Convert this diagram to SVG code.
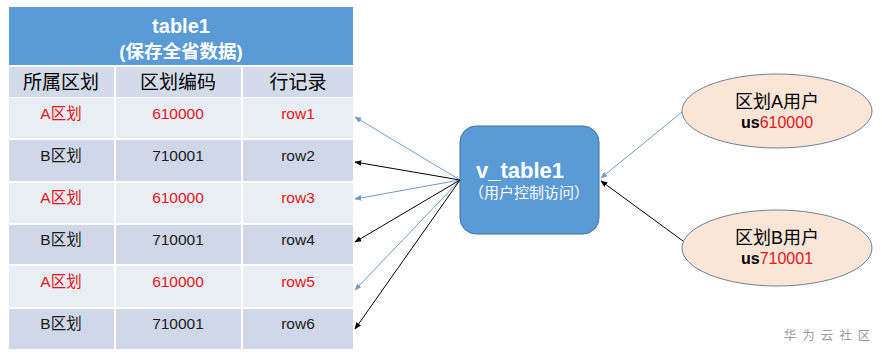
<svg xmlns="http://www.w3.org/2000/svg" width="882" height="356" viewBox="0 0 882 356">
<defs>
<style>
.t{font-family:"Liberation Sans","Noto Sans CJK SC",sans-serif;text-anchor:middle}
.hd{fill:#fff;font-weight:bold}
.ch{font-size:19px;fill:#000}
.cell{font-size:15.5px}
.red{fill:#E8141B}
.blk{fill:#1a1a1a}
.ra{fill:#E9EDF4}
.rb{fill:#CFD7E9}
.lb{stroke:#6E9BCF;stroke-width:1;fill:none}
.lk{stroke:#000;stroke-width:1;fill:none}
</style>
<marker id="ab" viewBox="0 0 10 10" refX="9" refY="5" markerWidth="7" markerHeight="7" orient="auto" markerUnits="userSpaceOnUse"><path d="M0,1 L10,5 L0,9 z" fill="#6E9BCF"/></marker>
<marker id="ak" viewBox="0 0 10 10" refX="9" refY="5" markerWidth="7" markerHeight="7" orient="auto" markerUnits="userSpaceOnUse"><path d="M0,1 L10,5 L0,9 z" fill="#000"/></marker>
</defs>
<rect width="882" height="356" fill="#fff"/>
<g id="table1">
<rect x="9" y="7" width="344" height="58" fill="#5B9BD5"/>
<text class="t hd" x="181" y="33" font-size="20">table1</text>
<text class="t hd" x="181" y="58" font-size="18.5">(保存全省数据)</text>
<rect x="9" y="67" width="105" height="30" fill="#D3DBEA"/>
<rect x="116" y="67" width="125" height="30" fill="#D3DBEA"/>
<rect x="243" y="67" width="110" height="30" fill="#D3DBEA"/>
<text class="t ch" x="61" y="89">所属区划</text>
<text class="t ch" x="178" y="89">区划编码</text>
<text class="t ch" x="298" y="89">行记录</text>
<g>
<rect class="ra" x="9" y="98" width="105" height="40"/><rect class="ra" x="116" y="98" width="125" height="40"/><rect class="ra" x="243" y="98" width="110" height="40"/>
<text class="t cell red" x="61" y="119">A区划</text><text class="t cell red" x="178" y="119">610000</text><text class="t cell red" x="298" y="119">row1</text>
</g>
<g>
<rect class="rb" x="9" y="140" width="105" height="41"/><rect class="rb" x="116" y="140" width="125" height="41"/><rect class="rb" x="243" y="140" width="110" height="41"/>
<text class="t cell blk" x="61" y="161">B区划</text><text class="t cell blk" x="178" y="161">710001</text><text class="t cell blk" x="298" y="161">row2</text>
</g>
<g>
<rect class="ra" x="9" y="183" width="105" height="40"/><rect class="ra" x="116" y="183" width="125" height="40"/><rect class="ra" x="243" y="183" width="110" height="40"/>
<text class="t cell red" x="61" y="203">A区划</text><text class="t cell red" x="178" y="203">610000</text><text class="t cell red" x="298" y="203">row3</text>
</g>
<g>
<rect class="rb" x="9" y="225" width="105" height="39"/><rect class="rb" x="116" y="225" width="125" height="39"/><rect class="rb" x="243" y="225" width="110" height="39"/>
<text class="t cell blk" x="61" y="245">B区划</text><text class="t cell blk" x="178" y="245">710001</text><text class="t cell blk" x="298" y="245">row4</text>
</g>
<g>
<rect class="ra" x="9" y="266" width="105" height="41"/><rect class="ra" x="116" y="266" width="125" height="41"/><rect class="ra" x="243" y="266" width="110" height="41"/>
<text class="t cell red" x="61" y="287">A区划</text><text class="t cell red" x="178" y="287">610000</text><text class="t cell red" x="298" y="287">row5</text>
</g>
<g>
<rect class="rb" x="9" y="309" width="105" height="40"/><rect class="rb" x="116" y="309" width="125" height="40"/><rect class="rb" x="243" y="309" width="110" height="40"/>
<text class="t cell blk" x="61" y="329">B区划</text><text class="t cell blk" x="178" y="329">710001</text><text class="t cell blk" x="298" y="329">row6</text>
</g>
</g>
<g id="v_table1">
<rect x="460" y="126" width="139" height="108" rx="16" fill="#5B9BD5" stroke="#41719C" stroke-width="1"/>
<text class="t hd" x="520" y="178" font-size="22">v_table1</text>
<text class="t" x="529" y="198" font-size="15" fill="#fff">（用户控制访问）</text>
</g>
<g id="userA">
<ellipse cx="777" cy="111" rx="95" ry="37" fill="#FBE5D6" stroke="#6B7F99" stroke-width="1"/>
<text class="t" x="777" y="108" font-size="18" fill="#000">区划A用户</text>
<text class="t" x="777" y="128" font-size="16"><tspan font-weight="bold" fill="#000">us</tspan><tspan fill="#E8141B">610000</tspan></text>
</g>
<g id="userB">
<ellipse cx="777" cy="248" rx="95" ry="38" fill="#FBE5D6" stroke="#6B7F99" stroke-width="1"/>
<text class="t" x="777" y="244" font-size="18" fill="#000">区划B用户</text>
<text class="t" x="777" y="264" font-size="16"><tspan font-weight="bold" fill="#000">us</tspan><tspan fill="#E8141B">710001</tspan></text>
</g>
<g id="connectors">
<line class="lb" x1="460" y1="180" x2="355" y2="117" marker-end="url(#ab)"/>
<line class="lk" x1="460" y1="180" x2="355" y2="162" marker-end="url(#ak)"/>
<line class="lb" x1="460" y1="180" x2="355" y2="199" marker-end="url(#ab)"/>
<line class="lk" x1="460" y1="180" x2="355" y2="242" marker-end="url(#ak)"/>
<line class="lb" x1="460" y1="180" x2="355" y2="290" marker-end="url(#ab)"/>
<line class="lk" x1="460" y1="180" x2="355" y2="329" marker-end="url(#ak)"/>
<line class="lb" x1="682" y1="112" x2="601" y2="178" marker-end="url(#ab)"/>
<line class="lk" x1="683" y1="241" x2="601" y2="181" marker-end="url(#ak)"/>
</g>
<text class="t" x="830" y="340" font-size="12.5" fill="#9a9a9a" letter-spacing="6">华为云社区</text>
</svg>
